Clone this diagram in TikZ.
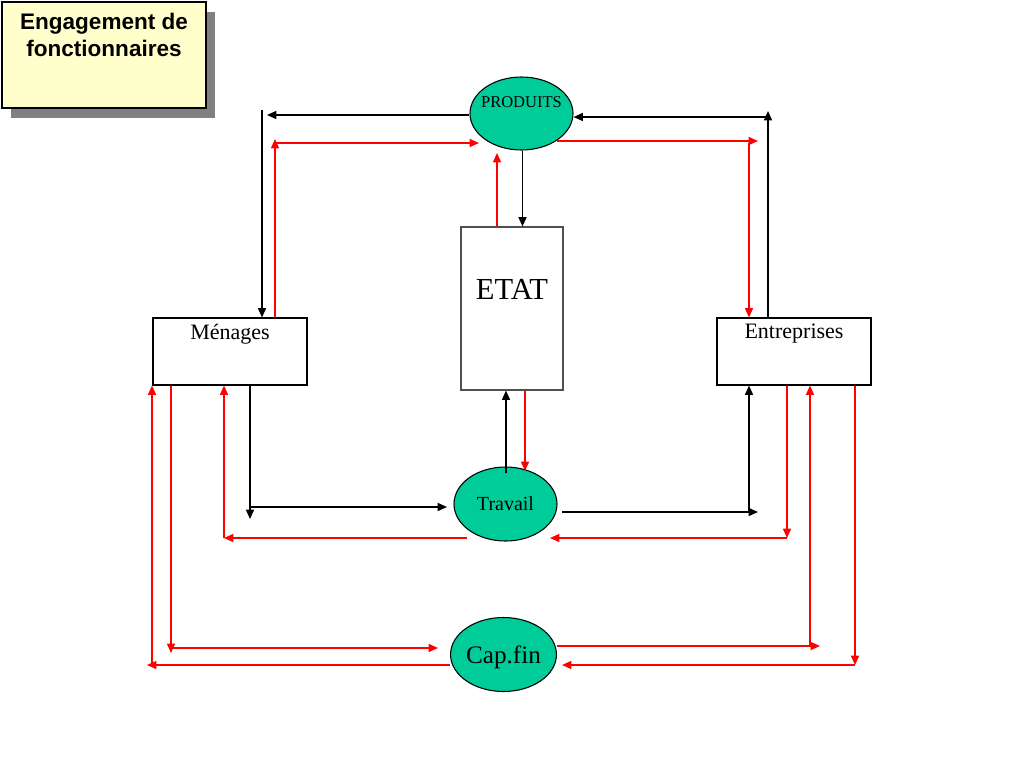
\documentclass[tikz,border=0pt]{standalone}
\usepackage{fontspec}
\setmainfont{Liberation Serif}
\newfontfamily\arialfont{Liberation Sans}
\usetikzlibrary{shapes.geometric,arrows.meta,shadows}
\definecolor{oval}{RGB}{0,204,153}
\definecolor{note}{RGB}{255,255,204}
\definecolor{shade}{RGB}{128,128,128}
\definecolor{rline}{RGB}{255,0,0}
\definecolor{etatline}{RGB}{80,80,80}
\begin{document}
\begin{tikzpicture}[x=0.75pt,y=-0.75pt,
  blk/.style={draw=black, line width=1.1pt, -{Triangle[length=7pt,width=6pt]}},
  rd/.style={draw=rline, line width=1.1pt, -{Triangle[length=7pt,width=6pt]}},
  oval/.style={ellipse, draw=black, line width=0.8pt, fill=oval, inner sep=0pt,
    minimum width=77.25pt, minimum height=55.5pt},
  sector/.style={rectangle, draw=black, line width=0.8pt, fill=white, inner sep=0pt,
    minimum width=115.5pt, minimum height=50.25pt},
  lbl/.style={font=\fontsize{16.5pt}{19pt}\selectfont, inner sep=0pt}
]
\useasboundingbox (0,0) rectangle (1024,768);

% title note
\node[rectangle, draw=black, line width=0.8pt, fill=note, inner sep=0pt,
  minimum width=153pt, minimum height=79.5pt,
  drop shadow={shadow xshift=6.5pt, shadow yshift=-7.5pt, fill=shade, opacity=1},
  label={[anchor=north, align=center, inner sep=0pt, yshift=-8.6pt,
    font=\arialfont\bfseries\fontsize{16.9pt}{20.3pt}\selectfont]north:Engagement de\\fonctionnaires}]
  (title) at (104,55) {};

% nodes
\node[oval, minimum width=77.25pt, minimum height=54.75pt,
  label={[inner sep=0pt, yshift=8.25pt, font=\fontsize{12.4pt}{14pt}\selectfont]center:PRODUITS}]
  (P) at (521.5,113.5) {};
\node[rectangle, draw=etatline, line width=0.8pt, fill=white, inner sep=0pt,
  minimum width=76.5pt, minimum height=122.25pt,
  label={[inner sep=0pt, yshift=14.6pt, font=\fontsize{22.9pt}{26pt}\selectfont]center:ETAT}]
  (Et) at (512,308.5) {};
\node[sector, label={[lbl, yshift=12.6pt]center:Ménages}] (M) at (230,351.5) {};
\node[sector, label={[lbl, yshift=13.2pt]center:Entreprises}] (En) at (794,351.5) {};
\node[oval, font=\fontsize{15pt}{17pt}\selectfont, text depth=0pt] (T) at (505.5,504) {Travail};
\node[oval, font=\fontsize{18.9pt}{21pt}\selectfont, text depth=0pt] (C) at (503.5,654.5) {Cap.fin};

% free ends
\coordinate (ml0) at (262,110);
\coordinate (ml1) at (267,115);
\coordinate (mr0) at (275,139);
\coordinate (mr1) at (274,143);
\coordinate (p1) at (479,143);
\coordinate (e1) at (497,153);
\coordinate (er0) at (768,111);
\coordinate (er1) at (768,117);
\coordinate (er2) at (758,141);
\coordinate (er3) at (749,143);
\coordinate (t0) at (506,473);
\coordinate (t1) at (525,471);
\coordinate (m1) at (250,519);
\coordinate (m2) at (250,507);
\coordinate (t2) at (447,507);
\coordinate (t3) at (467,538);
\coordinate (m3) at (224,538);
\coordinate (m4) at (171,653);
\coordinate (m5) at (171,648);
\coordinate (c0) at (438,648);
\coordinate (m6) at (147,665);
\coordinate (m7) at (152,665);
\coordinate (t4) at (562,512);
\coordinate (en1) at (758,512);
\coordinate (en2) at (749,512);
\coordinate (en3) at (787,538);
\coordinate (t5) at (550,538);
\coordinate (en4) at (820,646);
\coordinate (en5) at (810,646);
\coordinate (en6) at (855,665);
\coordinate (c1) at (562,665);
\coordinate (pd) at (522.5,0);

% top left
\draw[blk] (P.west |- ml1) -- (ml1);
\draw[blk] (ml0) -- (ml0 |- M.north);
\draw[rd] (mr0 |- M.north) -- (mr0);
\draw[rd] (mr1) -- (p1);
% centre top
\draw[rd] (e1 |- Et.north) -- (e1);
\draw[blk] (pd |- P.south) -- (pd |- Et.north);
% top right
\draw[blk] (er0 |- En.north) -- (er0);
\draw[blk] (er1) -- (P.east |- er1);
\draw[rd] (P.-38 |- er2) -- (er2);
\draw[rd] (er3) -- (er3 |- En.north);
% centre bottom
\draw[blk] (t0) -- (t0 |- Et.south);
\draw[rd] (t1 |- Et.south) -- (t1);
% bottom left
\draw[blk] (m1 |- M.south) -- (m1);
\draw[blk] (m2) -- (t2);
\draw[rd] (t3) -- (m3);
\draw[rd] (m3) -- (m3 |- M.south);
\draw[rd] (m4 |- M.south) -- (m4);
\draw[rd] (m5) -- (c0);
\draw[rd] (C.west |- m6) -- (m6);
\draw[rd] (m7) -- (m7 |- M.south);
% bottom right
\draw[blk] (t4) -- (en1);
\draw[blk] (en2) -- (en2 |- En.south);
\draw[rd] (en3 |- En.south) -- (en3);
\draw[rd] (en3) -- (t5);
\draw[rd] (C.east |- en4) -- (en4);
\draw[rd] (en5) -- (en5 |- En.south);
\draw[rd] (en6 |- En.south) -- (en6);
\draw[rd] (en6) -- (c1);
\end{tikzpicture}
\end{document}
